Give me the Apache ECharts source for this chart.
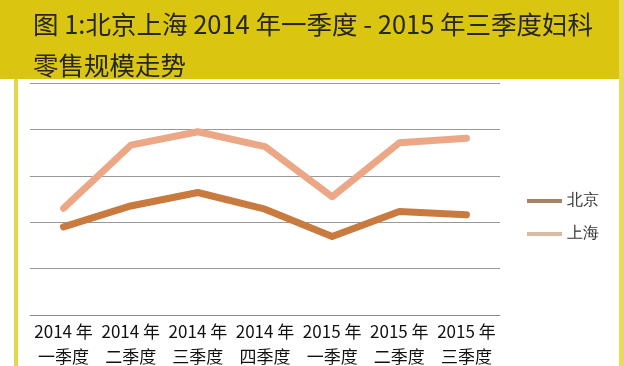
<!DOCTYPE html>
<html><head><meta charset="utf-8">
<script src="https://cdn.jsdelivr.net/npm/echarts@6/dist/echarts.min.js"></script>
<style>html,body{margin:0;padding:0;background:#fff}#c{width:624px;height:366px}</style>
</head><body><div id="c"></div>
<script>
var categories = ['2014 年\n一季度','2014 年\n二季度','2014 年\n三季度','2014 年\n四季度','2015 年\n一季度','2015 年\n二季度','2015 年\n三季度'];
var beijing = [1.90, 2.35, 2.64, 2.28, 1.69, 2.23, 2.16];
var shanghai = [2.30, 3.66, 3.95, 3.63, 2.55, 3.71, 3.81];
var titleText = '图 1:北京上海 2014 年一季度 - 2015 年三季度妇科\n零售规模走势';

var chart = echarts.init(document.getElementById('c'));
chart.setOption({
  animation: false,
  backgroundColor: '#fff',
  graphic: [
    {type:'rect', shape:{x:0,y:0,width:624,height:79}, style:{fill:'#dac510'}, z:-10},
    {type:'rect', shape:{x:14,y:79,width:4,height:287}, style:{fill:'#e3d54c'}, z:-10},
    {type:'rect', shape:{x:619,y:0,width:5,height:366}, style:{fill:'#e8dc55'}, z:-10}
  ],
  title: {
    text: titleText, left: 33, top: 4, padding: 0,
    textStyle: {fontFamily:'Noto Sans CJK SC', fontSize: 25.5, fontWeight: 'normal', color:'#262626', lineHeight: 41}
  },
  legend: {
    orient: 'vertical', left: 527, top: 193, padding: 0, itemWidth: 35, itemHeight: 4, itemGap: 17, icon: 'rect',
    textStyle: {fontFamily:'Liberation Serif', fontSize: 16, color:'#333'},
    data: [
      {name:'北京', itemStyle:{color:'#a98166'}},
      {name:'上海', itemStyle:{color:'#d9bba3'}}
    ]
  },
  grid: {left: 30, right: 124, top: 83, bottom: 51, containLabel: false, outerBoundsMode: 'none'},
  xAxis: {
    type: 'category', data: categories, boundaryGap: true,
    axisLine: {show: true, lineStyle: {color:'#8c8c8c', width: 1}},
    axisTick: {show: false},
    axisLabel: {margin: 4, interval: 0, fontFamily:'Noto Sans CJK SC', fontSize: 17, color:'#111', lineHeight: 25}
  },
  yAxis: {
    type: 'value', min: 0, max: 5, interval: 1,
    axisLabel: {show: false}, axisLine: {show: false}, axisTick: {show: false},
    splitLine: {lineStyle: {color:'#999', width: 1}}
  },
  series: [
    {name:'北京', type:'line', data: beijing, showSymbol: false, symbol:'none',
     itemStyle:{color:'#c97a3e'}, lineStyle:{color:'#c97a3e', width: 7, cap:'round', join:'round'}},
    {name:'上海', type:'line', data: shanghai, showSymbol: false, symbol:'none',
     itemStyle:{color:'#eca886'}, lineStyle:{color:'#eca886', width: 7, cap:'round', join:'round'}}
  ]
});
</script></body></html>
